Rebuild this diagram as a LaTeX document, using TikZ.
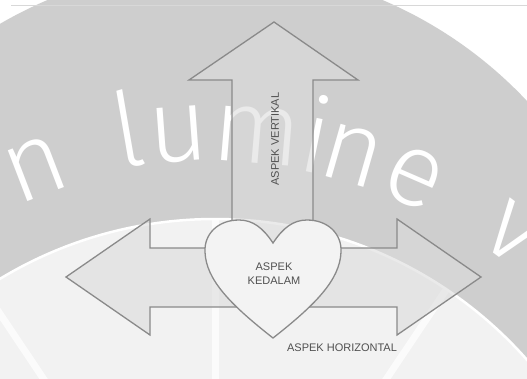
\documentclass[tikz,border=0pt]{standalone}
\usepackage{fontspec}
\setmainfont{Liberation Sans}
\newfontfamily\wmfont{Fira Sans}[UprightFont={* Light}]
\definecolor{ringgray}{HTML}{CECECE}
\definecolor{innerlight}{HTML}{F2F2F2}
\definecolor{topline}{HTML}{D8D8D8}
\definecolor{outlinegray}{HTML}{8A8A8A}
\definecolor{arrowfill}{HTML}{DCDCDC}
\definecolor{heartfill}{HTML}{F3F3F3}
\definecolor{labelgray}{HTML}{505050}
\tikzset{
  wm/.style={text=white, inner sep=0pt, anchor=base, font=\wmfont\fontsize{104}{104}\selectfont},
  spoke/.style={white, line width=7pt, opacity=0.7},
  shapeline/.style={draw=outlinegray, line width=1.3pt, line join=miter},
  lbl/.style={text=labelgray, inner sep=0pt, font=\fontsize{11}{14}\selectfont}
}
\begin{document}
\begin{tikzpicture}[x=1pt,y=1pt]
\useasboundingbox (0,0) rectangle (527,-378);
% ---- watermark background ----
\begin{scope}
  \clip (0,0) rectangle (527,-378);
  \fill[white] (0,0) rectangle (527,-378);
  \fill[ringgray] (215,-394) circle[radius=428];
  \fill[innerlight] (215,-635) circle[radius=416];
  \begin{scope}
    \clip (215,-635) circle[radius=416];
    \coordinate (ctr) at (215,-635);
    \draw[spoke] (ctr) -- ++(56.2:520);
    \draw[spoke] (ctr) -- ++(90:520);
    \draw[spoke] (ctr) -- ++(123.8:520);
  \end{scope}
  \draw[white, line width=2.5pt] (215,-635) circle[radius=416];
  \node[wm, rotate=21] (w1) at ([shift={(111:472)}]215,-635) {n};
  \node[wm, rotate=9.8]  (w2) at ([shift={(99.8:476)}]215,-635) {l};
  \node[wm, rotate=4.2]  (w3) at ([shift={(94.2:475)}]215,-635) {u};
  \node[wm, rotate=-4.8] (w4) at ([shift={(85.2:473)}]215,-635) {m};
  \node[wm, rotate=-11.5] (w5) at ([shift={(78.5:472)}]215,-635) {i};
  \node[wm, rotate=-16] (w6) at ([shift={(74:471)}]215,-635) {n};
  \node[wm, rotate=-23.5] (w7) at ([shift={(66.5:471)}]215,-635) {e};
  \node[wm, rotate=-36.5] (w8) at ([shift={(53.5:473)}]215,-635) {v};
  \draw[topline, line width=1pt] (11,-5) -- (527,-5);
\end{scope}
% ---- arrows (one outline) ----
\path[shapeline, fill=arrowfill, fill opacity=0.6]
  (66,-277) -- (150,-219) -- (150,-248) -- (232,-248) -- (232,-80)
  -- (189,-80) -- (274,-22) -- (358,-80) -- (313,-80) -- (313,-248)
  -- (397,-248) -- (397,-219) -- (481,-277) -- (397,-335) -- (397,-307)
  -- (150,-307) -- (150,-335) -- cycle;
% ---- heart ----
\path[shapeline, fill=heartfill]
  (273,-243) .. controls (283,-228) and (293,-220) .. (307,-220)
  .. controls (328,-220) and (342,-234) .. (341,-252)
  .. controls (340,-280) and (315,-305) .. (273,-338)
  .. controls (231,-305) and (206,-280) .. (205,-252)
  .. controls (204,-234) and (218,-220) .. (239,-220)
  .. controls (253,-220) and (263,-228) .. (273,-243) -- cycle;
% ---- labels ----
\node[lbl, rotate=90] (vert) at (275,-139) {ASPEK VERTIKAL};
\node[lbl, align=center] (ked) at (274,-274) {ASPEK\\KEDALAM};
\node[lbl] (hor) at (342,-348) {ASPEK HORIZONTAL};
\end{tikzpicture}
\end{document}
